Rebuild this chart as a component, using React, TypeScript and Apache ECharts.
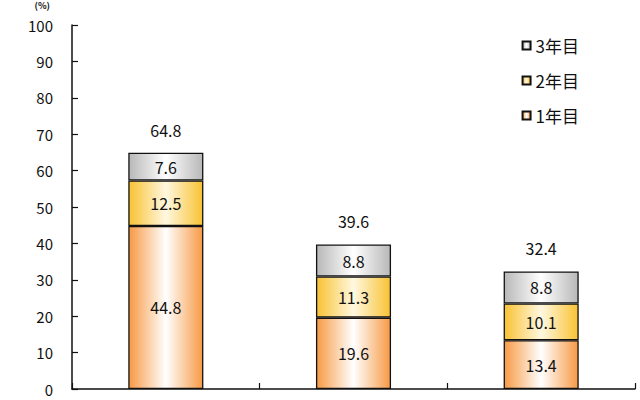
import React, { useEffect, useRef } from "react";
import * as echarts from "echarts";

const categories = ["A", "B", "C"];
const year1 = [44.8, 19.6, 13.4];
const year2 = [12.5, 11.3, 10.1];
const year3 = [7.6, 8.8, 8.8];
const totals = [64.8, 39.6, 32.4];
const seriesNames = ["1年目", "2年目", "3年目"];

const grad = (edge: string, mid: string) =>
  new echarts.graphic.LinearGradient(0, 0, 1, 0, [
    { offset: 0, color: edge },
    { offset: 0.5, color: mid },
    { offset: 1, color: edge },
  ]);

export default function App() {
  const ref = useRef<HTMLDivElement>(null);
  useEffect(() => {
    const chart = echarts.init(ref.current!, null, { renderer: "svg" });
    const font = "'Noto Sans CJK JP', 'Noto Sans', sans-serif";
    const labelCommon = {
      show: true,
      position: "inside",
      color: "#111",
      fontSize: 16,
      fontFamily: font,
      formatter: (p: any) => p.value.toFixed(1),
    };
    const itemCommon = { borderColor: "#111", borderWidth: 1.3 };
    chart.setOption({
      animation: false,
      backgroundColor: "#fff",
      grid: { left: 72, right: 5, top: 25, bottom: 11 },
      legend: {
        data: [seriesNames[2], seriesNames[1], seriesNames[0]],
        orient: "vertical",
        right: 56,
        top: 32,
        itemGap: 18,
        itemWidth: 8,
        itemHeight: 8,
        icon: "rect",
        textStyle: { fontSize: 17, color: "#111", fontFamily: font },
      },
      xAxis: {
        type: "category",
        data: categories,
        axisLine: { lineStyle: { color: "#111", width: 1.5 } },
        axisTick: { show: true, inside: true, length: 6, lineStyle: { color: "#111", width: 1.2 } },
        axisLabel: { show: false },
      },
      yAxis: {
        type: "value",
        min: 0,
        max: 100,
        interval: 10,
        name: "(%)",
        nameLocation: "end",
        nameGap: 15,
        nameTextStyle: { fontSize: 9, fontWeight: "bold", color: "#111", align: "right", padding: [0, 22, 0, 0], fontFamily: font },
        splitLine: { show: false },
        axisLine: { show: true, lineStyle: { color: "#111", width: 1.5 } },
        axisTick: { show: true, inside: true, length: 6, lineStyle: { color: "#111", width: 1.2 } },
        axisLabel: { color: "#111", fontSize: 15, margin: 19, fontFamily: font },
      },
      series: [
        {
          name: seriesNames[0],
          type: "bar",
          stack: "s",
          barWidth: "40%",
          data: year1,
          itemStyle: { ...itemCommon, color: grad("#f79a45", "#ffffff") },
          label: labelCommon,
        },
        {
          name: seriesNames[1],
          type: "bar",
          stack: "s",
          data: year2,
          itemStyle: { ...itemCommon, color: grad("#f8c233", "#fff8e0") },
          label: labelCommon,
        },
        {
          name: seriesNames[2],
          type: "bar",
          stack: "s",
          data: year3,
          itemStyle: { ...itemCommon, color: grad("#b8b8b8", "#ffffff") },
          label: labelCommon,
        },
        {
          name: "total",
          type: "bar",
          stack: "s",
          data: totals.map(() => 0),
          itemStyle: { color: "transparent", borderWidth: 0 },
          label: {
            show: true,
            position: "top",
            distance: 15,
            color: "#111",
            fontSize: 16,
            fontFamily: font,
            formatter: (p: any) => totals[p.dataIndex].toFixed(1),
          },
        },
      ],
    });
    return () => chart.dispose();
  }, []);
  return <div ref={ref} style={{ position: "absolute", left: 0, top: 0, width: 640, height: 400 }} />;
}
